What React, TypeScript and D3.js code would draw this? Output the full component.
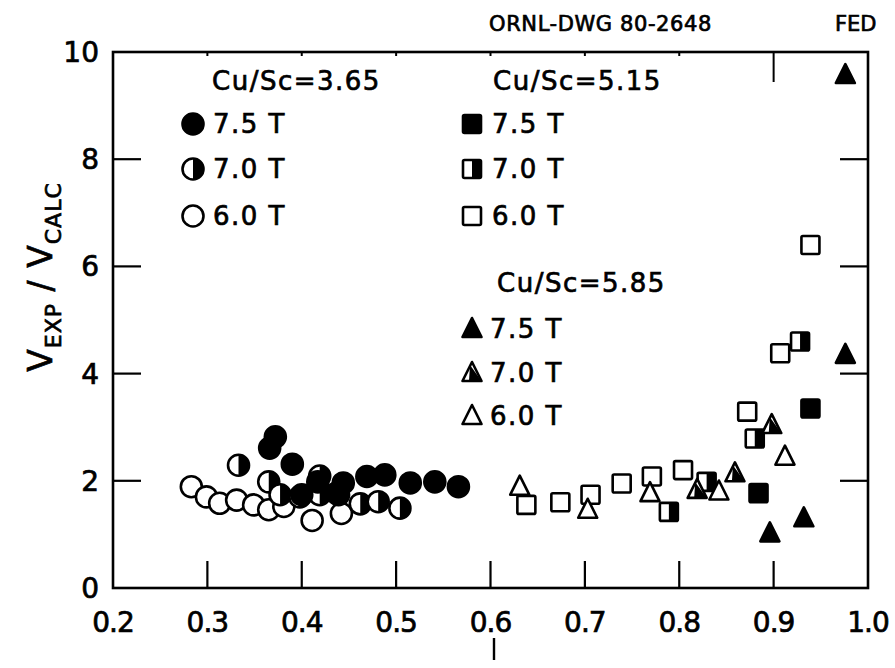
import React from 'react';
import * as d3 from 'd3';

// x ticks (current, I) and y ticks (V_EXP / V_CALC)
const xTicks = [0.2, 0.3, 0.4, 0.5, 0.6, 0.7, 0.8, 0.9, 1.0];
const xTickLabels = ['0.2', '0.3', '0.4', '0.5', '0.6', '0.7', '0.8', '0.9', '1.0'];
const yTicks = [0, 2, 4, 6, 8, 10];
const yTickLabels = ['0', '2', '4', '6', '8', '10'];
const longTopTicks = [0.9];

// Cu/Sc = 3.65 (circles)
const circ75: [number, number][] = [
  [0.372, 2.82], [0.366, 2.61], [0.39, 2.31], [0.417, 1.98], [0.444, 1.96],
  [0.469, 2.08], [0.488, 2.11], [0.515, 1.96], [0.541, 1.98], [0.566, 1.89],
  [0.4, 1.74], [0.437, 1.77],
];
const circ70: [number, number][] = [
  [0.333, 2.29], [0.365, 1.98], [0.419, 2.09], [0.377, 1.74], [0.398, 1.7],
  [0.419, 1.74], [0.439, 1.74], [0.462, 1.57], [0.481, 1.61], [0.504, 1.49],
];
const circ60: [number, number][] = [
  [0.283, 1.89], [0.299, 1.7], [0.313, 1.58], [0.331, 1.64], [0.349, 1.55],
  [0.365, 1.46], [0.381, 1.52], [0.411, 1.26], [0.442, 1.39],
];

// Cu/Sc = 5.15 (squares)
const sq75: [number, number][] = [[0.884, 1.77], [0.939, 3.35]];
const sq70: [number, number][] = [[0.789, 1.42], [0.829, 1.98], [0.88, 2.79], [0.928, 4.6]];
const sq60: [number, number][] = [
  [0.638, 1.55], [0.674, 1.6], [0.706, 1.74], [0.739, 1.95], [0.771, 2.08],
  [0.804, 2.2], [0.872, 3.29], [0.907, 4.38], [0.939, 6.4],
];

// Cu/Sc = 5.85 (triangles)
const tri75: [number, number][] = [[0.896, 1.02], [0.932, 1.3], [0.976, 4.35], [0.976, 9.57]];
const tri70: [number, number][] = [[0.819, 1.83], [0.859, 2.14], [0.898, 3.04]];
const tri60: [number, number][] = [[0.631, 1.89], [0.703, 1.46], [0.769, 1.77], [0.842, 1.8], [0.912, 2.45]];

const FONT = '"DejaVu Sans", sans-serif';
const R = 10.5;
const S = 18;

type Fill = 'full' | 'half' | 'open';

const Circle = ({ cx, cy, f }: { cx: number; cy: number; f: Fill }) => (
  <g>
    <circle cx={cx} cy={cy} r={R} fill={f === 'full' ? '#000' : '#fff'} stroke="#000" strokeWidth={2.6} />
    {f === 'half' && <path d={`M${cx},${cy - R} A${R},${R} 0 0 1 ${cx},${cy + R} Z`} fill="#000" />}
  </g>
);

const Square = ({ cx, cy, f }: { cx: number; cy: number; f: Fill }) => (
  <g>
    <rect x={cx - S / 2} y={cy - S / 2} width={S} height={S} rx={1.5}
      fill={f === 'full' ? '#000' : '#fff'} stroke="#000" strokeWidth={2.6} />
    {f === 'half' && <rect x={cx} y={cy - S / 2} width={S / 2} height={S} fill="#000" />}
  </g>
);

const Triangle = ({ cx, cy, f }: { cx: number; cy: number; f: Fill }) => {
  const w = 19, h = 18;
  const pts = `${cx},${cy - h / 2 - 2} ${cx + w / 2},${cy + h / 2 - 1} ${cx - w / 2},${cy + h / 2 - 1}`;
  return (
    <g>
      <polygon points={pts} fill={f === 'full' ? '#000' : '#fff'} stroke="#000" strokeWidth={2.6} strokeLinejoin="round" />
      {f === 'half' && (
        <polygon points={`${cx - 2},${cy - h / 2 + 1} ${cx + w / 2},${cy + h / 2 - 1} ${cx - 3},${cy + h / 2 - 1}`} fill="#000" />
      )}
    </g>
  );
};

const App: React.FC = () => {
  const width = 895;
  const height = 668;
  const x = d3.scaleLinear().domain([0.2, 1.0]).range([113, 868]);
  const y = d3.scaleLinear().domain([0, 10]).range([588, 52]);
  const [x0, x1] = x.range();
  const [y0, y1] = y.range();

  // scanned lettering is heavy, so give the glyphs a thin outline
  const heavy = { fontFamily: FONT, stroke: '#000', strokeWidth: 0.7 } as const;
  const legendText = { ...heavy, fontSize: 26, letterSpacing: 1.5 } as const;

  return (
    <svg width={width} height={height} style={{ position: 'absolute', left: 0, top: 0, background: '#fff' }}>
      {/* header */}
      <text x={489} y={31} {...heavy} fontSize={21} letterSpacing={0.6}>ORNL-DWG 80-2648</text>
      <text x={835} y={31} {...heavy} fontSize={21}>FED</text>

      {/* frame */}
      <rect x={x0} y={y1} width={x1 - x0} height={y0 - y1} fill="none" stroke="#000" strokeWidth={2.6} />

      {/* bottom ticks */}
      {xTicks.slice(1, -1).map(t => (
        <line key={'b' + t} x1={x(t)} x2={x(t)} y1={y0} y2={y0 - 27} stroke="#000" strokeWidth={2.2} />
      ))}
      {/* top ticks */}
      {xTicks.slice(1, -1).map(t => (
        <line key={'t' + t} x1={x(t)} x2={x(t)} y1={y1} y2={y1 + (longTopTicks.includes(t) ? 30 : 4)} stroke="#000" strokeWidth={2} />
      ))}
      {/* left/right ticks */}
      {yTicks.slice(1, -1).map(t => (
        <g key={'y' + t}>
          <line x1={x0} x2={x0 + 28} y1={y(t)} y2={y(t)} stroke="#000" strokeWidth={2.2} />
          <line x1={x1} x2={x1 - 28} y1={y(t)} y2={y(t)} stroke="#000" strokeWidth={2.2} />
        </g>
      ))}

      {/* tick labels */}
      {xTicks.map((t, i) => (
        <text key={'xl' + t} x={x(t)} y={632} textAnchor="middle" {...heavy} fontSize={28} letterSpacing={-1}>
          {xTickLabels[i]}
        </text>
      ))}
      {yTicks.map((t, i) => (
        <text key={'yl' + t} x={99} y={y(t) + 10} textAnchor="end" {...heavy} fontSize={28}>
          {yTickLabels[i]}
        </text>
      ))}

      {/* axis titles */}
      <line x1={494} x2={494} y1={638} y2={660} stroke="#000" strokeWidth={2.4} />
      <text transform="translate(52,277) rotate(-90)" textAnchor="middle" {...heavy} fontSize={33} letterSpacing={1}>
        V<tspan fontSize={22} dy={9}>EXP</tspan>
        <tspan dy={-9}> / V</tspan>
        <tspan fontSize={22} dy={9}>CALC</tspan>
      </text>

      {/* legend */}
      <text x={212} y={90} {...legendText}>Cu/Sc=3.65</text>
      <Circle cx={193} cy={124} f="full" />
      <text x={213} y={133} {...legendText}>7.5 T</text>
      <Circle cx={193} cy={169} f="half" />
      <text x={213} y={178} {...legendText}>7.0 T</text>
      <Circle cx={193} cy={216} f="open" />
      <text x={213} y={225} {...legendText}>6.0 T</text>

      <text x={493} y={90} {...legendText}>Cu/Sc=5.15</text>
      <Square cx={472} cy={124} f="full" />
      <text x={492} y={133} {...legendText}>7.5 T</text>
      <Square cx={472} cy={169} f="half" />
      <text x={492} y={178} {...legendText}>7.0 T</text>
      <Square cx={472} cy={216} f="open" />
      <text x={492} y={225} {...legendText}>6.0 T</text>

      <text x={497} y={292} {...legendText}>Cu/Sc=5.85</text>
      <Triangle cx={472} cy={329} f="full" />
      <text x={490} y={338} {...legendText}>7.5 T</text>
      <Triangle cx={472} cy={373} f="half" />
      <text x={490} y={382} {...legendText}>7.0 T</text>
      <Triangle cx={472} cy={416} f="open" />
      <text x={490} y={425} {...legendText}>6.0 T</text>

      {/* data */}
      {circ60.map((d, i) => <Circle key={'c6' + i} cx={x(d[0])} cy={y(d[1])} f="open" />)}
      {circ70.map((d, i) => <Circle key={'c7' + i} cx={x(d[0])} cy={y(d[1])} f="half" />)}
      {circ75.map((d, i) => <Circle key={'c75' + i} cx={x(d[0])} cy={y(d[1])} f="full" />)}
      {sq60.map((d, i) => <Square key={'s6' + i} cx={x(d[0])} cy={y(d[1])} f="open" />)}
      {sq70.map((d, i) => <Square key={'s7' + i} cx={x(d[0])} cy={y(d[1])} f="half" />)}
      {sq75.map((d, i) => <Square key={'s75' + i} cx={x(d[0])} cy={y(d[1])} f="full" />)}
      {tri60.map((d, i) => <Triangle key={'t6' + i} cx={x(d[0])} cy={y(d[1])} f="open" />)}
      {tri70.map((d, i) => <Triangle key={'t7' + i} cx={x(d[0])} cy={y(d[1])} f="half" />)}
      {tri75.map((d, i) => <Triangle key={'t75' + i} cx={x(d[0])} cy={y(d[1])} f="full" />)}
    </svg>
  );
};

export default App;
